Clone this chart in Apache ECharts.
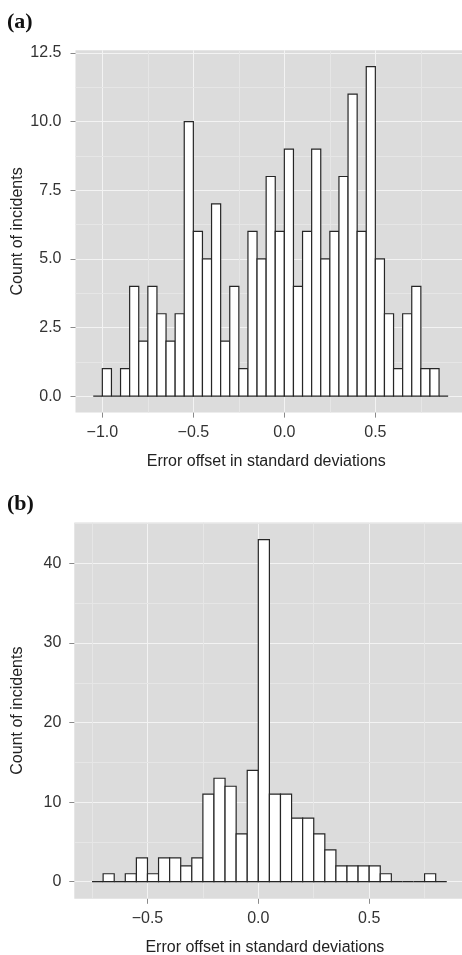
<!DOCTYPE html>
<html>
<head>
<meta charset="utf-8">
<script src="https://cdn.jsdelivr.net/npm/echarts@6/dist/echarts.min.js"></script>
<style>
html,body{margin:0;padding:0;background:#fff;}
#chart{width:462px;height:955px;}
</style>
</head>
<body>
<div id="chart"></div>
<script>
// Panel (a) histogram
var edgesA = [-1.05,-1.0,-0.95,-0.9,-0.85,-0.8,-0.75,-0.7,-0.65,-0.6,-0.55,-0.5,-0.45,-0.4,-0.35,-0.3,-0.25,-0.2,-0.15,-0.1,-0.05,0.0,0.05,0.1,0.15,0.2,0.25,0.3,0.35,0.4,0.45,0.5,0.55,0.6,0.65,0.7,0.75,0.8,0.85,0.9];
var countsA = [0,1,0,1,4,2,4,3,2,3,10,6,5,7,2,4,1,6,5,8,6,9,4,6,9,5,6,8,11,6,12,5,3,1,3,4,1,1,0];
var xTicksA = [-1.0,-0.5,0.0,0.5];
var xMinorA = [-0.75,-0.25,0.25,0.75];
var yTicksA = [0,2.5,5,7.5,10,12.5];
var yMinorA = [1.25,3.75,6.25,8.75,11.25];

// Panel (b) histogram
var edgesB = [-0.75,-0.7,-0.65,-0.6,-0.55,-0.5,-0.45,-0.4,-0.35,-0.3,-0.25,-0.2,-0.15,-0.1,-0.05,0.0,0.05,0.1,0.15,0.2,0.25,0.3,0.35,0.4,0.45,0.5,0.55,0.6,0.65,0.7,0.75,0.8,0.85];
var countsB = [0,1,0,1,3,1,3,3,2,3,11,13,12,6,14,43,11,11,8,8,6,4,2,2,2,2,1,0,0,0,1,0];
var xTicksB = [-0.5,0.0,0.5];
var xMinorB = [-0.75,-0.25,0.25,0.75];
var yTicksB = [0,10,20,30,40];
var yMinorB = [5,15,25,35,45];

var xTitle = 'Error offset in standard deviations';
var yTitle = 'Count of incidents';

var PANEL = '#DCDCDC', MAJOR = '#F3F3F3', MINOR = '#E6E6E6';
var FONT = 'Liberation Sans, Arial, sans-serif';

function binsData(edges, counts){
  var out = [];
  for (var i = 0; i < counts.length; i++) out.push([edges[i], edges[i+1], counts[i]]);
  return out;
}
function fmtX(v){ return (v < 0 ? '\u2212' : '') + Math.abs(v).toFixed(1); }

function renderBar(params, api){
  var p0 = api.coord([api.value(0), api.value(2)]);
  var p1 = api.coord([api.value(1), 0]);
  return {
    type: 'rect',
    shape: {x: p0[0], y: p0[1], width: p1[0]-p0[0], height: p1[1]-p0[1]},
    style: {fill: '#ffffff', stroke: '#262626', lineWidth: 1.2}
  };
}

function xAxisOpt(idx, min, max, ticks, margin, gap){
  return {
    type: 'value', gridIndex: idx, min: min, max: max, position: 'bottom', z: 0,
    axisLine: {show: false, onZero: false},
    axisTick: {show: true, length: 5, customValues: ticks, lineStyle: {color: '#8a8a8a', width: 1}},
    axisLabel: {customValues: ticks, formatter: fmtX, color: '#333', fontSize: 16, fontFamily: FONT, margin: margin},
    splitLine: {show: true, lineStyle: {color: MAJOR, width: 1}},
    name: xTitle, nameLocation: 'middle', nameGap: gap,
    nameTextStyle: {color: '#222', fontSize: 16, fontFamily: FONT, padding: [0, 9, 0, 0]}
  };
}
function yAxisOpt(idx, min, max, ticks, fmt, margin, gap){
  return {
    type: 'value', gridIndex: idx, min: min, max: max, position: 'left', z: 0,
    axisLine: {show: false, onZero: false},
    axisTick: {show: true, length: 5, customValues: ticks, lineStyle: {color: '#8a8a8a', width: 1}},
    axisLabel: {customValues: ticks, formatter: fmt, color: '#333', fontSize: 16, fontFamily: FONT, margin: margin},
    splitLine: {show: true, lineStyle: {color: MAJOR, width: 1}},
    name: yTitle, nameLocation: 'middle', nameGap: gap, nameMoveOverlap: false,
    nameTextStyle: {color: '#222', fontSize: 16, fontFamily: FONT}
  };
}
function minorSeries(idx, xs, ys){
  var d = [];
  xs.forEach(function(v){ d.push({xAxis: v}); });
  ys.forEach(function(v){ d.push({yAxis: v}); });
  return {
    type: 'line', xAxisIndex: idx, yAxisIndex: idx, data: [], z: 1, silent: true,
    markLine: {silent: true, z: 1, symbol: 'none', animation: false, label: {show: false},
      lineStyle: {color: MINOR, width: 1, type: 'solid'}, emphasis: {disabled: true}, data: d}
  };
}

var chart = echarts.init(document.getElementById('chart'), null, {renderer: 'canvas'});
chart.setOption({
  animation: false,
  backgroundColor: '#ffffff',
  grid: [
    {left: 75.5, top: 50.2, width: 390.4, height: 362.4, show: true, backgroundColor: PANEL, borderWidth: 0, containLabel: false, outerBoundsMode: 'none'},
    {left: 74.3, top: 522.5, width: 390.2, height: 376.3, show: true, backgroundColor: PANEL, borderWidth: 0, containLabel: false, outerBoundsMode: 'none'}
  ],
  xAxis: [
    xAxisOpt(0, -1.1475, 0.9975, xTicksA, 12, 41),
    xAxisOpt(1, -0.83, 0.93, xTicksB, 12, 41)
  ],
  yAxis: [
    yAxisOpt(0, -0.6, 12.6, yTicksA, function(v){ return v.toFixed(1); }, 14, 50),
    yAxisOpt(1, -2.15, 45.15, yTicksB, function(v){ return String(v); }, 13, 49)
  ],
  graphic: [
    {type: 'text', left: 7, top: 11, style: {text: '(a)', font: 'bold 22px "Liberation Serif", "Times New Roman", serif', fill: '#111'}},
    {type: 'text', left: 7, top: 493, style: {text: '(b)', font: 'bold 22px "Liberation Serif", "Times New Roman", serif', fill: '#111'}}
  ],
  series: [
    minorSeries(0, xMinorA, yMinorA),
    minorSeries(1, xMinorB, yMinorB),
    {type: 'custom', xAxisIndex: 0, yAxisIndex: 0, z: 10, renderItem: renderBar, clip: true,
     encode: {x: [0, 1], y: 2}, data: binsData(edgesA, countsA)},
    {type: 'custom', xAxisIndex: 1, yAxisIndex: 1, z: 10, renderItem: renderBar, clip: true,
     encode: {x: [0, 1], y: 2}, data: binsData(edgesB, countsB)}
  ]
});
</script>
</body>
</html>
